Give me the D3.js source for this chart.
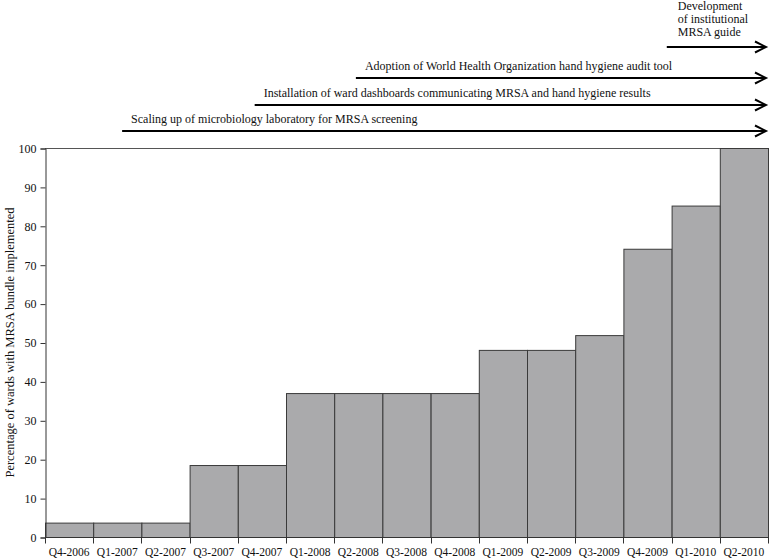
<!DOCTYPE html>
<html>
<head>
<meta charset="utf-8">
<script src="https://cdn.jsdelivr.net/npm/d3@7"></script>
<style>
  body { margin: 0; background: #fff; }
  text { font-family: "Liberation Serif", "Times New Roman", serif; fill: #111; }
</style>
</head>
<body>
<div id="viz"></div>
<script>
// quarters and % of wards with the MRSA bundle in place
const quarters = ['Q4-2006', 'Q1-2007', 'Q2-2007', 'Q3-2007', 'Q4-2007', 'Q1-2008', 'Q2-2008', 'Q3-2008',
  'Q4-2008', 'Q1-2009', 'Q2-2009', 'Q3-2009', 'Q4-2009', 'Q1-2010', 'Q2-2010'];
const pctWards = [3.7, 3.7, 3.7, 18.5, 18.5, 37.0, 37.0, 37.0, 37.0, 48.1, 48.1, 51.9, 74.1, 85.2, 100];
const yTicks = [0, 10, 20, 30, 40, 50, 60, 70, 80, 90, 100];

// interventions: label lines and start (in quarters from Q4-2006)
const interventionLabels = [
  ['Scaling up of microbiology laboratory for MRSA screening'],
  ['Installation of ward dashboards communicating MRSA and hand hygiene results'],
  ['Adoption of World Health Organization hand hygiene audit tool'],
  ['Development', 'of institutional', 'MRSA guide']
];
const interventionStart = [1.6, 4.35, 6.45, 12.9];

const width = 769, height = 560;
const margin = {top: 148, right: 1, bottom: 23, left: 45};

const svg = d3.select('#viz').append('svg')
  .attr('width', width).attr('height', height)
  .attr('role', 'img')
  .attr('aria-label', 'Percentage of wards with MRSA bundle implemented by quarter');

const x = d3.scaleBand().domain(quarters).range([margin.left, width - margin.right]).padding(0);
const xq = d3.scaleLinear().domain([0, quarters.length]).range([margin.left, width - margin.right]);
const y = d3.scaleLinear().domain([0, 100]).range([height - margin.bottom, margin.top]);

// top frame line
svg.append('line')
  .attr('x1', margin.left).attr('x2', width - margin.right)
  .attr('y1', y(100) + 0.5).attr('y2', y(100) + 0.5)
  .attr('stroke', '#555').attr('stroke-width', 1);

// bars
svg.selectAll('rect.bar').data(quarters).join('rect')
  .attr('class', 'bar')
  .attr('x', d => x(d) + 0.5)
  .attr('y', (d, i) => y(pctWards[i]) + 0.5)
  .attr('width', x.bandwidth())
  .attr('height', (d, i) => y(0) - y(pctWards[i]))
  .attr('fill', '#aaaaac')
  .attr('stroke', '#3a3a3a')
  .attr('stroke-width', 1);

// y axis
const yAxis = svg.append('g')
  .attr('transform', `translate(${margin.left + 0.5},0.5)`)
  .call(d3.axisLeft(y).tickValues(yTicks).tickSize(5).tickPadding(4));
yAxis.select('.domain').attr('stroke', '#333');
yAxis.selectAll('.tick line').attr('stroke', '#333');
yAxis.selectAll('.tick text').style('font-size', '12px').attr('fill', '#111');

// x axis: ticks at bar edges
const edges = d3.range(quarters.length + 1);
const xg = svg.append('g').attr('transform', `translate(0,${y(0) + 0.5})`);
xg.append('line')
  .attr('x1', margin.left).attr('x2', width - margin.right)
  .attr('stroke', '#333');
xg.selectAll('line.tk').data(edges).join('line')
  .attr('class', 'tk')
  .attr('x1', d => Math.round(xq(d)) + 0.5).attr('x2', d => Math.round(xq(d)) + 0.5)
  .attr('y1', 0).attr('y2', 6)
  .attr('stroke', '#333');
xg.selectAll('text').data(quarters).join('text')
  .attr('x', d => x(d) + x.bandwidth() / 2)
  .attr('y', 18)
  .attr('text-anchor', 'middle')
  .style('font-size', '11.5px')
  .text(d => d);

// y axis title
svg.append('text')
  .attr('transform', `translate(14,${(y(0) + y(100)) / 2}) rotate(-90)`)
  .attr('text-anchor', 'middle')
  .style('font-size', '12.5px')
  .text('Percentage of wards with MRSA bundle implemented');

// intervention arrows
const arrowY = [131, 105, 78, 47];
const tipX = width - 3;
interventionLabels.forEach((lines, i) => {
  const x0 = xq(interventionStart[i]);
  const ay = arrowY[i];
  svg.append('line')
    .attr('x1', x0).attr('x2', tipX - 1)
    .attr('y1', ay).attr('y2', ay)
    .attr('stroke', '#000').attr('stroke-width', 2);
  svg.append('path')
    .attr('d', `M${tipX - 11},${ay - 5.5}L${tipX},${ay}L${tipX - 11},${ay + 5.5}`)
    .attr('fill', 'none').attr('stroke', '#000').attr('stroke-width', 2);
  const t = svg.append('text')
    .attr('x', x0 + (lines.length > 1 ? 11 : 9))
    .attr('y', ay - 8 - (lines.length - 1) * 13 - (lines.length > 1 ? 3 : 0))
    .style('font-size', '12px');
  lines.forEach((s, j) => {
    t.append('tspan').attr('x', x0 + (lines.length > 1 ? 11 : 9)).attr('dy', j ? 13 : 0).text(s);
  });
});
</script>
</body>
</html>
